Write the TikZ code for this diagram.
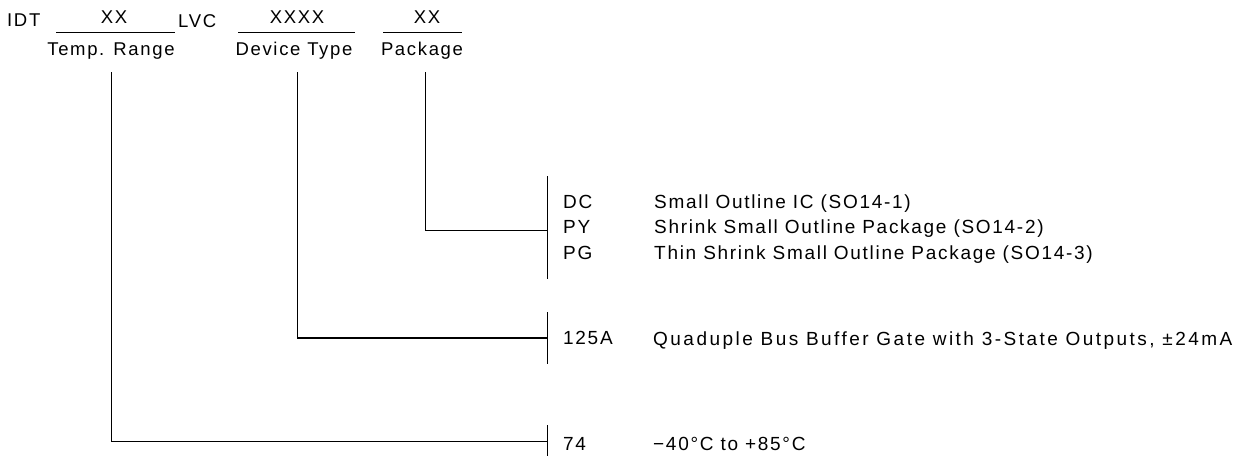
\documentclass[tikz,border=0pt]{standalone}
\usepackage{fontspec}
\setmainfont{Liberation Sans}[LetterSpace=9]
\begin{document}
\begin{tikzpicture}[x=1pt,y=-1pt,
  txt/.style={inner sep=0pt,anchor=base west,font=\fontsize{18.5}{22}\selectfont},
  opt/.style={inner sep=0pt,anchor=base west,font=\fontsize{19}{22}\selectfont},
  ctr/.style={inner sep=0pt,anchor=base,font=\fontsize{18.5}{22}\selectfont},
  ln/.style={line width=1pt,black},
  thick ln/.style={line width=1.9pt,black}]
\useasboundingbox (0,0) rectangle (1235,456);
% header
\node[txt] (idt) at (7,26) {IDT};
\node[ctr] (xx1) at (114,23) {XX};
\node[txt] (lvc) at (178,27) {LVC};
\node[ctr] (xxxx) at (297,23) {XXXX};
\node[ctr] (xx2) at (427,23) {XX};
\coordinate (u1a) at (56,32); \coordinate (u1b) at (175,32);
\coordinate (u2a) at (238,32); \coordinate (u2b) at (355,32);
\coordinate (u3a) at (383,32); \coordinate (u3b) at (462,32);
\draw[ln] (u1a) -- (u1b);
\draw[ln] (u2a) -- (u2b);
\draw[ln] (u3a) -- (u3b);
\node[ctr] (temp) at (111,55) {Temp. Range};
\node[ctr] (dev) at (294,55) {Device Type};
\node[ctr] (pkg) at (422,55) {Package};
% connector start points
\coordinate (t0) at (111,72); \coordinate (t1) at (111,441);
\coordinate (d0) at (297,72); \coordinate (d1) at (297,338);
\coordinate (p0) at (425,72); \coordinate (p1) at (425,230);
% brackets
\coordinate (pb) at (547,230); \coordinate (pbt) at (547,176); \coordinate (pbb) at (547,279);
\coordinate (db) at (547,338); \coordinate (dbt) at (547,312); \coordinate (dbb) at (547,364);
\coordinate (tb) at (547,441); \coordinate (tbt) at (547,425); \coordinate (tbb) at (547,456);
\draw[ln] (p0) -- (p1) -- (pb);
\draw[ln] (pbt) -- (pbb);
\draw[ln] (d0) -- (d1);
\draw[thick ln] (d1) -- (db);
\draw[ln] (dbt) -- (dbb);
\draw[ln] (t0) -- (t1) -- (tb);
\draw[ln] (tbt) -- (tbb);
% options
\node[opt] (dc) at (563,208) {DC};
\node[opt] (py) at (563,233.5) {PY};
\node[opt] (pg) at (563,259) {PG};
\node[opt] (dcd) at (654,208) {Small Outline IC (SO14-1)};
\node[opt] (pyd) at (654,233.5) {Shrink Small Outline Package (SO14-2)};
\node[opt] (pgd) at (654,259) {Thin Shrink Small Outline Package (SO14-3)};
\node[opt] (n125) at (563,344) {125A};
\node[opt] (n125d) at (653,345) {\addfontfeatures{LetterSpace=13}Quaduple Bus Buffer Gate with 3-State Outputs, ±24mA};
\node[opt] (n74) at (563,450) {74};
\node[opt] (n74d) at (653,450) {−40°C to +85°C};
\end{tikzpicture}
\end{document}
